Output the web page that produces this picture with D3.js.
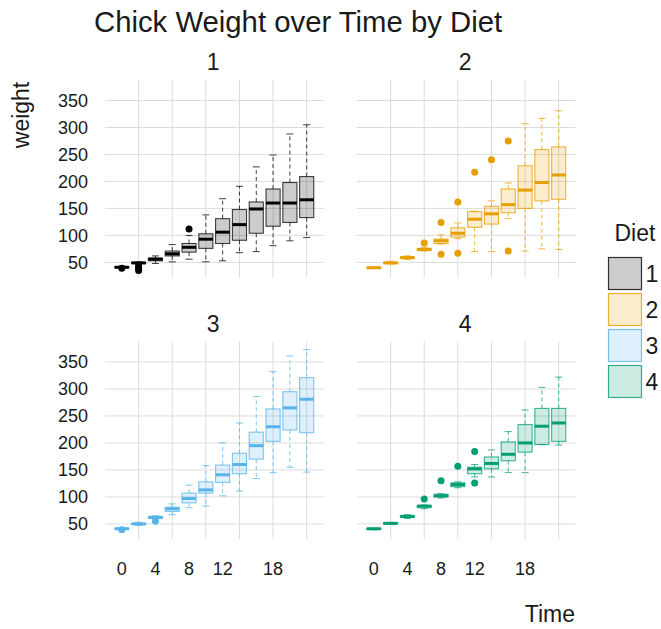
<!DOCTYPE html>
<html>
<head>
<meta charset="utf-8">
<script src="https://cdn.jsdelivr.net/npm/d3@7"></script>
<style>
  body { margin: 0; background: #fff; }
  text { font-family: "Liberation Sans", Arial, sans-serif; fill: #1a1a1a; }
</style>
</head>
<body>
<div id="chart"></div>
<script>
// time points (one box per time) and which ones get labels / grid lines
var times = [0, 2, 4, 6, 8, 10, 12, 14, 16, 18, 20, 21];
var tickTimes = [0, 4, 8, 12, 18];
var gridTimes = [2, 6, 10, 14, 18, 21];
var weightTicks = [50, 100, 150, 200, 250, 300, 350];

var diets = ["1", "2", "3", "4"];
var dietColors = ["#000000", "#E69F00", "#56B4E9", "#009E73"];

// per time: [lower whisker, q1, median, q3, upper whisker]
var diet1Stats = [
    [40, 41, 41, 42, 43], [47, 48, 49, 50, 51], [48, 53, 56, 58, 62], [51, 62, 66, 71, 83],
    [56, 69, 78, 85, 100], [51, 76, 93, 103, 138], [53, 85, 106, 131, 168], [68, 91, 120, 148, 191],
    [70, 104, 149, 162, 227], [81, 117, 160, 186, 249], [90, 124, 160, 198, 288], [96, 133, 166, 209, 305]
];
var diet2Stats = [
    [39, 40, 40, 41, 42], [47, 48, 49, 50, 52], [55, 57, 59, 60, 62], [71, 72, 74, 76, 78],
    [84, 85, 90, 93, 101], [94, 97, 104, 114, 123], [70, 115, 130, 144, 145], [70, 121, 140, 154, 164],
    [131, 142, 157, 186, 197], [71, 150, 184, 229, 307], [75, 164, 198, 259, 317], [74, 167, 212, 264, 331]
];
var diet3Stats = [
    [40, 41, 41, 42, 43], [47, 49, 50, 51, 53], [59, 60, 62, 64, 65], [67, 73, 78, 81, 87],
    [80, 89, 97, 107, 122], [83, 107, 113, 128, 158], [102, 127, 141, 159, 200], [111, 143, 160, 181, 237],
    [134, 170, 195, 220, 286], [145, 203, 230, 263, 332], [155, 224, 265, 295, 361], [146, 219, 281, 321, 373]
];
var diet4Stats = [
    [39, 40.5, 41, 41.5, 42], [49, 50, 51, 52, 53], [60, 62, 64, 65, 67], [78, 80, 83, 84, 85],
    [98, 100, 102, 105, 106], [117, 119, 123, 126, 128], [137, 143, 152, 155, 160], [137, 152, 162, 174, 187],
    [145, 167, 179, 202, 221], [145, 183, 200, 234, 261], [197, 197, 231, 264, 303], [196, 203, 237, 264, 322]
];

// outliers as [time, weight]
var diet1Outliers = [[0, 39], [2, 35], [2, 39], [2, 44], [8, 112]];
var diet2Outliers = [[6, 86], [8, 124], [8, 65], [10, 162], [10, 67], [12, 217], [14, 240], [16, 275], [16, 71]];
var diet3Outliers = [[0, 39], [4, 55]];
var diet4Outliers = [[6, 96], [8, 130], [10, 157], [12, 184], [12, 126]];

var allStats = [diet1Stats, diet2Stats, diet3Stats, diet4Stats];
var allOutliers = [diet1Outliers, diet2Outliers, diet3Outliers, diet4Outliers];

var width = 661, height = 629;
var panelW = 218.5, panelH = 197.5;
var panelX = [105, 357];
var panelY = [80, 341.5];

var svg = d3.select("#chart").append("svg")
    .attr("width", width)
    .attr("height", height);

var x = d3.scalePoint()
    .domain(times)
    .range([0, panelW])
    .padding(1);

var y = d3.scaleLinear()
    .domain([22, 388])
    .range([panelH, 0]);

var boxW = x.step() * 0.84;
var capW = boxW * 0.5;

svg.append("text")
    .attr("x", 94)
    .attr("y", 32)
    .style("font-size", "29.3px")
    .text("Chick Weight over Time by Diet");

diets.forEach(function (diet, i) {
    var col = i % 2, row = Math.floor(i / 2);
    var color = dietColors[i];
    var g = svg.append("g")
        .attr("transform", "translate(" + panelX[col] + "," + panelY[row] + ")");

    // grid
    g.selectAll(".hgrid").data(weightTicks).enter().append("line")
        .attr("x1", 0).attr("x2", panelW)
        .attr("y1", function (d) { return y(d); })
        .attr("y2", function (d) { return y(d); })
        .attr("stroke", "#dcdcdc").attr("stroke-width", 1);
    g.selectAll(".vgrid").data(gridTimes).enter().append("line")
        .attr("x1", function (d) { return x(d); })
        .attr("x2", function (d) { return x(d); })
        .attr("y1", 0).attr("y2", panelH)
        .attr("stroke", "#dcdcdc").attr("stroke-width", 1);

    // strip label
    g.append("text")
        .attr("x", panelW / 2 - 1)
        .attr("y", -10)
        .attr("text-anchor", "middle")
        .style("font-size", "23px")
        .text(diet);

    if (col === 0) {
        g.selectAll(".ylab").data(weightTicks).enter().append("text")
            .attr("x", -17)
            .attr("y", function (d) { return y(d); })
            .attr("dy", "0.36em")
            .attr("text-anchor", "end")
            .style("font-size", "18px")
            .text(function (d) { return d; });
    }
    if (row === 1) {
        g.selectAll(".xlab").data(tickTimes).enter().append("text")
            .attr("x", function (d) { return x(d); })
            .attr("y", panelH + 36)
            .attr("text-anchor", "middle")
            .style("font-size", "18px")
            .text(function (d) { return d; });
    }

    var stats = allStats[i].map(function (s, j) {
        return { time: times[j], lo: s[0], q1: s[1], med: s[2], q3: s[3], hi: s[4] };
    });

    var box = g.selectAll(".box").data(stats).enter().append("g")
        .attr("transform", function (d) { return "translate(" + x(d.time) + ",0)"; });

    // whiskers
    box.append("line")
        .attr("y1", function (d) { return y(d.q3); })
        .attr("y2", function (d) { return y(d.hi); })
        .attr("stroke", color).attr("stroke-opacity", 0.75)
        .attr("stroke-dasharray", "4,3");
    box.append("line")
        .attr("y1", function (d) { return y(d.q1); })
        .attr("y2", function (d) { return y(d.lo); })
        .attr("stroke", color).attr("stroke-opacity", 0.75)
        .attr("stroke-dasharray", "4,3");
    box.append("line")
        .attr("x1", -capW / 2).attr("x2", capW / 2)
        .attr("y1", function (d) { return y(d.hi); })
        .attr("y2", function (d) { return y(d.hi); })
        .attr("stroke", color).attr("stroke-opacity", 0.75);
    box.append("line")
        .attr("x1", -capW / 2).attr("x2", capW / 2)
        .attr("y1", function (d) { return y(d.lo); })
        .attr("y2", function (d) { return y(d.lo); })
        .attr("stroke", color).attr("stroke-opacity", 0.75);

    box.append("rect")
        .attr("x", -boxW / 2)
        .attr("width", boxW)
        .attr("y", function (d) { return y(d.q3); })
        .attr("height", function (d) { return Math.max(1, y(d.q1) - y(d.q3)); })
        .attr("fill", color).attr("fill-opacity", 0.2)
        .attr("stroke", color).attr("stroke-opacity", 0.75)
        .attr("stroke-width", 1.1);

    box.append("line")
        .attr("x1", -boxW / 2).attr("x2", boxW / 2)
        .attr("y1", function (d) { return y(d.med); })
        .attr("y2", function (d) { return y(d.med); })
        .attr("stroke", color).attr("stroke-width", 3);

    g.selectAll(".out").data(allOutliers[i]).enter().append("circle")
        .attr("cx", function (d) { return x(d[0]); })
        .attr("cy", function (d) { return y(d[1]); })
        .attr("r", 3.5)
        .attr("fill", color);
});

// axis titles
svg.append("text")
    .attr("transform", "translate(29,115) rotate(-90)")
    .attr("text-anchor", "middle")
    .style("font-size", "23px")
    .text("weight");

svg.append("text")
    .attr("x", 575)
    .attr("y", 622)
    .attr("text-anchor", "end")
    .style("font-size", "23px")
    .text("Time");

// legend
var legend = svg.append("g").attr("transform", "translate(608.5,257.5)");
legend.append("text")
    .attr("x", 6)
    .attr("y", -17)
    .style("font-size", "23px")
    .text("Diet");

var item = legend.selectAll(".item").data(diets).enter().append("g")
    .attr("transform", function (d, i) { return "translate(0," + i * 36 + ")"; });
item.append("rect")
    .attr("width", 33).attr("height", 32)
    .attr("fill", function (d, i) { return dietColors[i]; })
    .attr("fill-opacity", 0.2)
    .attr("stroke", function (d, i) { return dietColors[i]; })
    .attr("stroke-opacity", 0.8)
    .attr("stroke-width", 1.2);
item.append("text")
    .attr("x", 37)
    .attr("y", 16)
    .attr("dy", "0.36em")
    .style("font-size", "23px")
    .text(function (d) { return d; });
</script>
</body>
</html>
